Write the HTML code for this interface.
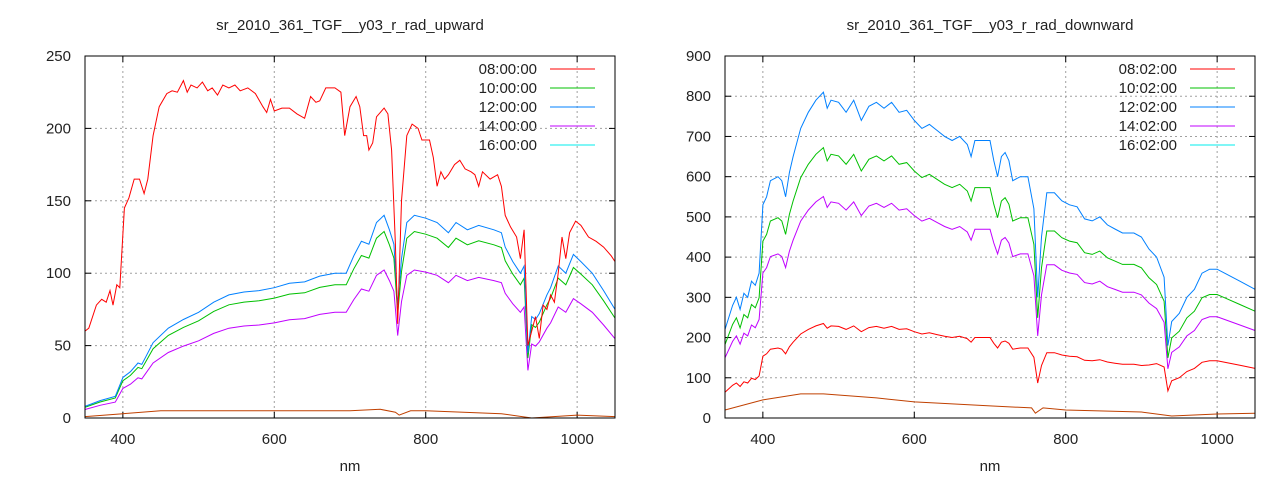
<!DOCTYPE html>
<html><head><meta charset="utf-8"><style>
body{margin:0;background:#fff;}
svg{display:block;font-family:"Liberation Sans",sans-serif;}
text{fill:#222;font-size:15px;}
</style></head><body>
<svg id="s" width="1280" height="480" xmlns="http://www.w3.org/2000/svg">
<text x="350" y="30" text-anchor="middle">sr_2010_361_TGF__y03_r_rad_upward</text>
<text x="990" y="30" text-anchor="middle">sr_2010_361_TGF__y03_r_rad_downward</text>
<text x="350" y="471" text-anchor="middle">nm</text>
<text x="990" y="471" text-anchor="middle">nm</text>
<g text-anchor="end">
<text x="537" y="74">08:00:00</text><text x="537" y="93">10:00:00</text><text x="537" y="112">12:00:00</text><text x="537" y="131">14:00:00</text><text x="537" y="150">16:00:00</text>
<text x="1177" y="74">08:02:00</text><text x="1177" y="93">10:02:00</text><text x="1177" y="112">12:02:00</text><text x="1177" y="131">14:02:00</text><text x="1177" y="150">16:02:00</text>
</g>
<g id="g"></g>
</svg>
<script>
var NS="http://www.w3.org/2000/svg",G=document.getElementById('g');
function el(t,a){var e=document.createElementNS(NS,t);for(var k in a)e.setAttribute(k,a[k]);G.appendChild(e);return e;}
function txt(x,y,s,anc){var e=el('text',{x:x,y:y,'text-anchor':anc});e.textContent=s;}
function P(a){var r=[];for(var i=0;i<a.length;i+=2)r.push([a[i],a[i+1]]);return r;}
var redL=P([350,60,355,62,365,78,372,82,378,80,383,88,387,78,392,92,396,90,402,145,408,152,415,165,422,165,428,155,433,165,440,195,448,215,458,224,465,226,472,225,480,233,485,225,490,230,498,228,505,232,512,226,518,228,525,223,532,230,540,228,548,230,555,226,565,228,575,224,585,215,590,211,595,220,600,212,610,214,620,214,630,210,640,207,648,222,655,218,660,219,668,228,680,228,688,225,693,195,700,215,708,222,713,215,718,195,722,195,725,185,730,190,735,208,745,214,750,210,755,185,760,120,763,65,768,150,775,195,782,203,790,200,795,192,805,192,810,180,815,160,820,170,825,165,830,168,838,175,845,178,852,172,860,170,865,168,870,160,875,170,885,165,895,168,900,160,905,140,912,132,920,125,925,110,930,130,935,50,940,60,945,70,950,55,955,78,960,75,965,85,970,80,975,100,980,125,985,110,990,128,998,136,1005,133,1015,125,1025,122,1035,118,1045,112,1050,108]);
var blueL=P([350,8,370,12,390,15,400,28,410,32,420,38,425,37,430,42,440,52,460,62,480,68,500,73,520,80,540,85,560,87,580,88,600,90,620,93,640,94,660,98,680,100,695,100,705,112,715,122,725,120,735,135,745,140,752,130,758,120,763,78,768,110,775,135,785,140,800,138,815,135,830,128,840,135,855,130,870,133,890,130,900,128,905,118,915,108,925,100,930,105,935,45,940,70,945,68,950,72,960,85,965,90,975,105,985,100,995,113,1005,108,1020,100,1035,88,1050,75]);
var orL=P([350,1,400,3,450,5,700,5,740,6,760,4,765,2,780,5,800,5,900,3,940,0,1000,2,1050,1]);
var blueR=P([350,220,360,280,365,300,370,270,375,310,380,300,385,340,390,330,395,360,400,530,405,550,410,590,420,600,425,590,430,550,435,610,440,650,450,720,460,760,470,790,480,810,485,770,490,790,500,785,510,760,520,790,530,740,540,775,550,785,560,770,570,785,580,760,590,765,600,740,610,720,620,730,630,715,640,700,650,690,660,700,670,680,675,650,680,690,690,690,700,690,705,640,710,600,715,650,720,660,725,640,730,590,740,600,750,600,758,520,763,300,768,450,775,560,785,560,795,540,805,530,815,525,825,495,835,490,845,500,855,480,865,470,875,460,890,460,900,450,910,420,920,400,930,350,935,180,940,240,950,260,960,300,970,320,980,360,990,370,1000,370,1010,360,1030,340,1050,320]);
var orR=P([350,20,400,45,450,60,480,60,550,50,600,40,700,30,755,25,760,12,770,25,800,20,900,15,940,5,1000,10,1050,12]);
function sc(a,f){return a.map(function(p){return [p[0],p[1]*f];});}
function scR(a){return a.map(function(p){var f=p[0]<900?0.29:(p[0]<940?0.29+(p[0]-900)*0.0024:0.385);return [p[0],p[1]*f];});}
function chart(x0,ymax,ystep,series,lx){
 var x1=x0+530,y0=418,y1=56;
 function X(v){return x0+(v-350)*530/700;} function Y(v){return y0-v*(y0-y1)/ymax;}
 for(var v=0;v<=ymax;v+=ystep){var y=Y(v);
  if(v>0&&v<ymax)el('line',{x1:x0,x2:x1,y1:y,y2:y,stroke:'#a0a0a0','stroke-dasharray':'2,3'});
  el('line',{x1:x0,x2:x0+6,y1:y,y2:y,stroke:'#000'});el('line',{x1:x1,x2:x1-6,y1:y,y2:y,stroke:'#000'});
  txt(x0-14,y+5,String(v),'end');}
 [400,600,800,1000].forEach(function(v){var x=X(v);
  el('line',{x1:x,x2:x,y1:y0,y2:y1,stroke:'#a0a0a0','stroke-dasharray':'2,3'});
  el('line',{x1:x,x2:x,y1:y0,y2:y0-6,stroke:'#000'});el('line',{x1:x,x2:x,y1:y1,y2:y1+6,stroke:'#000'});
  txt(x,y0+26,String(v),'middle');});
 series.forEach(function(s){el('polyline',{points:s[0].map(function(p){return X(p[0]).toFixed(1)+','+Y(p[1]).toFixed(1);}).join(' '),fill:'none',stroke:s[1],'stroke-width':1});});
 ['#ff0000','#00c000','#0080ff','#c000ff','#00eeee'].forEach(function(c,i){el('line',{x1:lx,x2:lx+45,y1:69+19*i,y2:69+19*i,stroke:c});});
 el('rect',{x:x0,y:y1,width:530,height:y0-y1,fill:'none',stroke:'#000'});
}
chart(85,250,50,[[orL,'#c04000'],[sc(blueL,0.73),'#c000ff'],[sc(blueL,0.92),'#00c000'],[blueL,'#0080ff'],[redL,'#ff0000']],550);
chart(725,900,100,[[orR,'#c04000'],[scR(blueR),'#ff0000'],[sc(blueR,0.68),'#c000ff'],[sc(blueR,0.83),'#00c000'],[blueR,'#0080ff']],1190);
</script>
</body></html>
